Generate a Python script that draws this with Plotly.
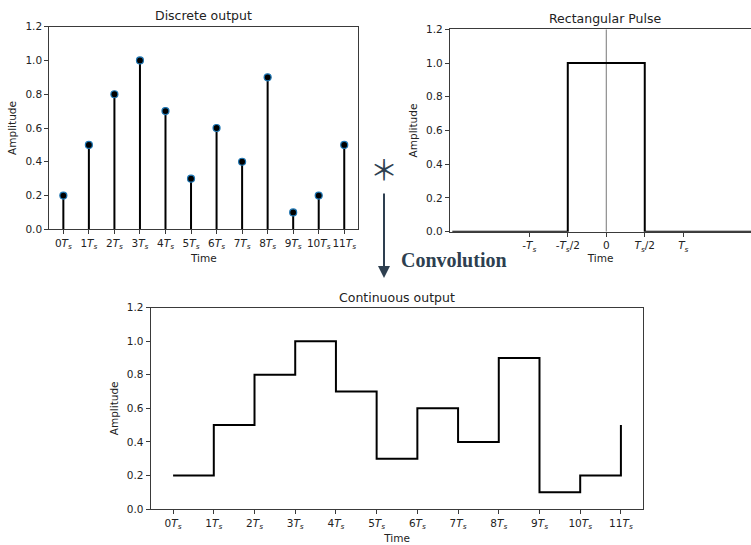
import plotly.graph_objects as go

W, H = 751, 545

# ---- data ----
sample_idx = list(range(12))
amplitudes = [0.2, 0.5, 0.8, 1.0, 0.7, 0.3, 0.6, 0.4, 0.9, 0.1, 0.2, 0.5]
tick_labels = [f"{i}<i>T</i><sub><i>s</i></sub>" for i in sample_idx]

pulse_x = [-2.0, -0.5, -0.5, 0.5, 0.5, 2.0]
pulse_y = [0.0, 0.0, 1.0, 1.0, 0.0, 0.0]
pulse_tick_vals = [-1, -0.5, 0, 0.5, 1]
pulse_tick_labels = ["-<i>T</i><sub><i>s</i></sub>", "-<i>T</i><sub><i>s</i></sub>/2", "0",
                     "<i>T</i><sub><i>s</i></sub>/2", "<i>T</i><sub><i>s</i></sub>"]
y_ticks = [0.0, 0.2, 0.4, 0.6, 0.8, 1.0, 1.2]
y_tick_labels = ["0.0", "0.2", "0.4", "0.6", "0.8", "1.0", "1.2"]

def px_x(p):
    return p / W

def px_y(p):
    return 1 - p / H

FONT = "DejaVu Sans"
AX = "#3a3a3a"

fig = go.Figure()

# --- Discrete output: stems ---
stem_x, stem_y = [], []
for xi, yi in zip(sample_idx, amplitudes):
    stem_x += [xi, xi, None]
    stem_y += [0, yi, None]
fig.add_trace(go.Scatter(x=stem_x, y=stem_y, mode="lines",
                         line=dict(color="black", width=2), xaxis="x", yaxis="y",
                         showlegend=False, hoverinfo="skip"))
fig.add_trace(go.Scatter(x=sample_idx, y=amplitudes, mode="markers",
                         marker=dict(color="black", size=7,
                                     line=dict(color="#1f77b4", width=1.2)),
                         xaxis="x", yaxis="y", showlegend=False))

# --- Rectangular pulse ---
fig.add_trace(go.Scatter(x=[0, 0], y=[0, 1.2], mode="lines",
                         line=dict(color="#777777", width=1), xaxis="x2", yaxis="y2",
                         showlegend=False, hoverinfo="skip"))
fig.add_trace(go.Scatter(x=pulse_x, y=pulse_y, mode="lines", cliponaxis=False,
                         line=dict(color="black", width=2), xaxis="x2", yaxis="y2",
                         showlegend=False))

# --- Continuous output ---
fig.add_trace(go.Scatter(x=sample_idx, y=amplitudes, mode="lines", line_shape="hv",
                         line=dict(color="black", width=2), xaxis="x3", yaxis="y3",
                         showlegend=False))

axis_common = dict(showgrid=False, zeroline=False, showline=True, linecolor=AX,
                   linewidth=1.2, ticks="outside", ticklen=4, tickcolor=AX,
                   automargin=False, tickangle=0,
                   tickfont=dict(family=FONT, size=10.5, color="#222"))

fig.update_layout(
    width=W, height=H, margin=dict(l=0, r=0, t=0, b=0, autoexpand=False),
    paper_bgcolor="white", plot_bgcolor="white",
    font=dict(family=FONT, color="#222"),
    xaxis=dict(axis_common, domain=[px_x(49.3), px_x(358.3)], range=[-0.55, 11.55],
               tickvals=sample_idx, ticktext=tick_labels, mirror=True, anchor="y",
               title=dict(text="Time", font=dict(size=10.5), standoff=4)),
    yaxis=dict(axis_common, domain=[px_y(229.3), px_y(26.7)], range=[0, 1.2],
               tickvals=y_ticks, ticktext=y_tick_labels, mirror=True, anchor="x",
               title=dict(text="Amplitude", font=dict(size=10.5), standoff=6)),
    xaxis2=dict(axis_common, domain=[px_x(450), 1.0], range=[-2.03, 1.88],
                tickvals=pulse_tick_vals, ticktext=pulse_tick_labels, mirror=True, anchor="y2",
                title=dict(text="Time", font=dict(size=10.5), standoff=2)),
    yaxis2=dict(axis_common, domain=[px_y(231.7), px_y(29.3)], range=[0, 1.2],
                tickvals=y_ticks, ticktext=y_tick_labels, mirror=False, anchor="x2",
                title=dict(text="Amplitude", font=dict(size=10.5), standoff=6)),
    xaxis3=dict(axis_common, domain=[px_x(150.7), px_x(643.3)], range=[-0.55, 11.55],
                tickvals=sample_idx, ticktext=tick_labels, mirror=True, anchor="y3",
                title=dict(text="Time", font=dict(size=10.5), standoff=4)),
    yaxis3=dict(axis_common, domain=[px_y(509), px_y(307.7)], range=[0, 1.2],
                tickvals=y_ticks, ticktext=y_tick_labels, mirror=True, anchor="x3",
                title=dict(text="Amplitude", font=dict(size=10.5), standoff=6)),
)

ann = []
def label(text, x, y, size=12.5, family=FONT, color="#222"):
    ann.append(dict(text=text, x=px_x(x), y=px_y(y), xref="paper", yref="paper",
                    xanchor="center", yanchor="middle", showarrow=False,
                    font=dict(family=family, size=size, color=color)))

label("Discrete output", 203.8, 15)
label("Rectangular Pulse", 605, 18)
label("Continuous output", 397, 297)
label("\uff0a", 384, 169, size=28, family="Noto Sans CJK SC", color="#2e3f50")
label("<b>Convolution</b>", 454, 260, size=20, family="Liberation Serif", color="#2e3f50")
ann.append(dict(text="", x=px_x(384), y=px_y(278), xref="paper", yref="paper",
                ax=0, ay=-86, axref="pixel", ayref="pixel",
                showarrow=True, arrowhead=2, arrowsize=1.2, arrowwidth=2, arrowcolor="#2e3f50"))
fig.update_layout(annotations=ann)

fig.write_html("out.html")
